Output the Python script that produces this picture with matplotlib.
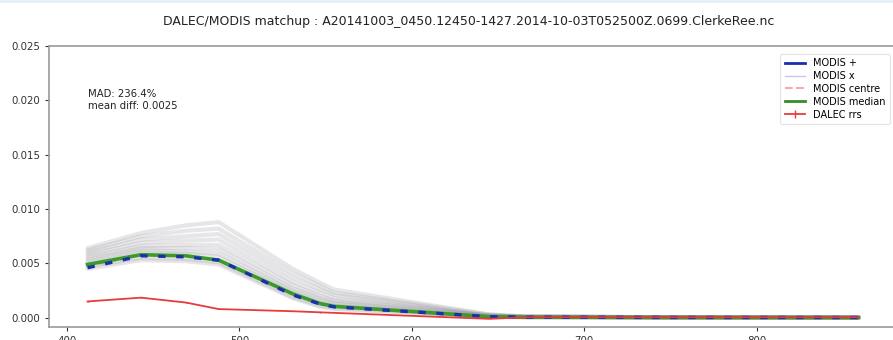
import matplotlib
matplotlib.use("Agg")
import matplotlib.pyplot as plt
from matplotlib.lines import Line2D

wavelengths = [412, 443, 469, 488, 531, 547, 555, 645, 667, 678, 748, 859]

modis_plus = [0.0046, 0.0057, 0.0056, 0.0053, 0.0021, 0.00125, 0.0010, 0.0001, 0.00005, 0.00005, 0.00003, 0.00002]
modis_centre = [0.0047, 0.0057, 0.0056, 0.0053, 0.0021, 0.00128, 0.0010, 0.0001, 0.00005, 0.00005, 0.00003, 0.00002]
modis_median = [0.0049, 0.0058, 0.0057, 0.0053, 0.0022, 0.0013, 0.00105, 0.0001, 0.00005, 0.00005, 0.00003, 0.00002]
dalec_rrs = [0.0015, 0.00185, 0.0014, 0.0008, 0.0006, 0.0005, 0.00045, -0.0001, 0.00005, 0.00005, 0.00005, 0.00005]
dalec_err = [0.00003, 0.00003, 0.00003, 0.00003, 0.00002, 0.00002, 0.00002, 0.00001, 0.00001, 0.00001, 0.00001, 0.00001]

modis_x1 = [0.0064, 0.0078, 0.0085, 0.0088, 0.0045, 0.0032, 0.0026, 0.0003, 0.0001, 0.0001, 0.00005, 0.00003]
modis_x2 = [0.0062, 0.0075, 0.0080, 0.0082, 0.0041, 0.0029, 0.0023, 0.0003, 0.0001, 0.0001, 0.00005, 0.00003]
modis_x3 = [0.0060, 0.0072, 0.0075, 0.0077, 0.0037, 0.0026, 0.0021, 0.0002, 0.0001, 0.0001, 0.00005, 0.00003]
modis_x4 = [0.0058, 0.0069, 0.0071, 0.0072, 0.0033, 0.0023, 0.0018, 0.0002, 0.0001, 0.0001, 0.00004, 0.00003]
modis_x5 = [0.0056, 0.0066, 0.0067, 0.0067, 0.0030, 0.0020, 0.0016, 0.0002, 0.0001, 0.0001, 0.00004, 0.00002]
modis_x6 = [0.0054, 0.0064, 0.0064, 0.0063, 0.0027, 0.0018, 0.0014, 0.0002, 0.0001, 0.0001, 0.00004, 0.00002]
modis_x7 = [0.0052, 0.0062, 0.0061, 0.0059, 0.0025, 0.0016, 0.0013, 0.0001, 0.00005, 0.00005, 0.00003, 0.00002]
modis_x8 = [0.0050, 0.0060, 0.0059, 0.0056, 0.0023, 0.0014, 0.0011, 0.0001, 0.00005, 0.00005, 0.00003, 0.00002]
modis_x9 = [0.0047, 0.0055, 0.0054, 0.0051, 0.0019, 0.0011, 0.0009, 0.0001, 0.00005, 0.00005, 0.00003, 0.00002]
modis_x10 = [0.0045, 0.0053, 0.0052, 0.0049, 0.0018, 0.0010, 0.0008, 0.0001, 0.00005, 0.00005, 0.00003, 0.00002]
modis_x_lines = [modis_x1, modis_x2, modis_x3, modis_x4, modis_x5,
                 modis_x6, modis_x7, modis_x8, modis_x9, modis_x10]

title = "DALEC/MODIS matchup : A20141003_0450.12450-1427.2014-10-03T052500Z.0699.ClerkeRee.nc"
stats_text = "MAD: 236.4%\nmean diff: 0.0025"

fig = plt.figure(figsize=(8.93, 3.40), dpi=100)
ax = fig.add_axes([49 / 893, 13 / 340, 848 / 893, 281 / 340])

for line in modis_x_lines:
    ax.plot(wavelengths, line, color="#909098", lw=3.0, alpha=0.22, solid_capstyle="round")
ax.plot(wavelengths, modis_centre, color="#f4a0a8", lw=1.5, ls="--", alpha=0.6)
ax.plot(wavelengths, modis_median, color="#3a9a2a", lw=2.6)
ax.plot(wavelengths, modis_plus, color="#1a2fb0", lw=2.4, ls=(0, (2.2, 3.2)))
ax.errorbar(wavelengths, dalec_rrs, yerr=dalec_err, color="#e83a3a", lw=1.3, elinewidth=1.0)

ax.set_xlim(389.65, 881.35)
ax.set_ylim(-0.00085, 0.025)
ax.set_xticks([400, 500, 600, 700, 800])
ax.set_yticks([0.0, 0.005, 0.010, 0.015, 0.020, 0.025])
ax.set_yticklabels(["0.000", "0.005", "0.010", "0.015", "0.020", "0.025"])
ax.tick_params(labelsize=7.4, colors="#333333", length=3, width=0.8)
for s in ax.spines.values():
    s.set_color("#999999")
    s.set_linewidth(1.2)

ax.text(412, 0.0210, stats_text, fontsize=7.3, va="top", ha="left", color="#222222",
        linespacing=1.25)

handles = [
    Line2D([], [], color="#1a2fb0", lw=2.0),
    Line2D([], [], color="#c8c8e4", lw=1.0),
    Line2D([], [], color="#f4a8b0", lw=1.5, ls="--"),
    Line2D([], [], color="#3a8a2a", lw=2.0),
    Line2D([], [], color="#e83a3a", lw=1.3, marker="|", markersize=6),
]
labels = ["MODIS +", "MODIS x", "MODIS centre", "MODIS median", "DALEC rrs"]
leg = ax.legend(handles, labels, loc="upper right", bbox_to_anchor=(0.997, 0.99), fontsize=7.0,
                frameon=True, fancybox=True, handlelength=2.1, labelspacing=0.3,
                borderpad=0.45, handletextpad=0.8)
leg.get_frame().set_edgecolor("#dddddd")
leg.get_frame().set_linewidth(0.8)

fig.text(469 / 893, 1 - 22 / 340, title, ha="center", va="center", fontsize=9.0, color="#222222")
fig.add_artist(Line2D([0, 1], [0.997, 0.997], transform=fig.transFigure, color="#e2f2f6", lw=2))

fig.savefig("out.png", dpi=100, facecolor="white")
